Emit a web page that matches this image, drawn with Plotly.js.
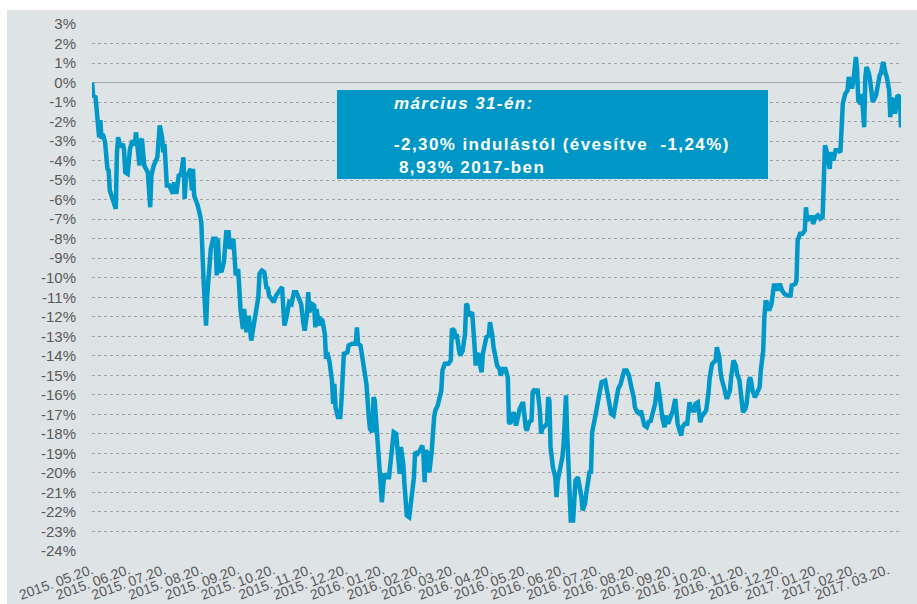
<!DOCTYPE html>
<html>
<head>
<meta charset="utf-8">
<script src="https://cdn.plot.ly/plotly-3.0.1.min.js"></script>
<style>
  html, body { margin: 0; padding: 0; background: #ffffff; width: 917px; height: 604px; overflow: hidden; }
  #chart { position: absolute; left: 7px; top: 10px; width: 910px; height: 594px; }
</style>
</head>
<body>
<div id="chart"></div>
<script>
// Start date of the series (launch)
const startDate = '2015-05-20';

// Days elapsed since launch for each observation
const dayOffsets = [
  0,1,3,5,6,7,8,9,11,13,14,15,18,20,21,22,24,26,27,28,30,32,34,36,37,38,40,41,42,44,46,47,49,50,52,54,55,57,59,60,61,63,65,67,68,69,71,73,75,77,78,79,81,83,84,85,86,88,89,91,92,94,96,97,100,102,104,105,106,107,109,111,113,115,116,118,119,121,123,125,127,128,130,132,133,134,
  140,141,143,145,147,148,149,151,153,155,157,160,161,162,164,166,168,170,172,174,176,178,179,181,182,183,185,187,188,189,191,192,194,196,197,198,200,202,203,204,205,207,209,210,211,212,215,216,219,222,223,224,226,228,230,231,233,234,236,237,238,240,242,243,244,246,248,250,252,254,256,257,259,260,262,263,265,267,269,270,271,272,274,276,278,279,280,281,283,284,286,288,289,291,293,294,295,297,
  300,302,303,305,306,307,309,310,312,314,315,316,317,319,320,322,323,324,326,327,328,329,331,332,334,335,337,338,340,341,343,344,346,348,350,351,352,354,355,357,359,360,362,363,365,366,368,370,371,372,374,375,377,378,379,381,383,384,385,386,388,390,391,392,394,396,397,399,400,402,403,405,406,407,409,410,412,413,415,416,418,419,420,421,423,425,427,428,
  429,432,433,434,436,437,439,441,442,443,445,447,448,450,452,454,456,457,459,461,462,464,465,467,469,470,472,474,475,476,478,479,480,482,483,485,486,488,489,491,492,493,495,496,497,499,501,502,503,505,507,508,510,512,513,515,517,519,520,522,524,525,526,528,529,530,532,534,535,537,538,540,542,543,545,547,548,550,551,553,554,555,556,558,559,561,562,563,565,566,567,568,569,570,572,573,574,576,577,579,
  581,583,585,588,589,592,593,594,596,598,600,601,602,604,606,607,609,611,613,615,616,617,619,620,621,622,624,626,628,630,631,632,634,636,637,639,640,641,643,644,645,647,648,650,651,652,654,655,657,658,660,662,663,664,666,668,669,671,672,673,675,676,677,678,680,681
];

// Cumulative return since launch, %
const returnPct = [
  0,-0.67,-0.75,-1.86,-2.8,-1.93,-2.89,-2.63,-3.05,-4.42,-4.5,-5.53,-6.03,-6.47,-3.57,-2.8,-3.31,-3.14,-3.47,-4.6,-4.68,-3.4,-2.96,-3.22,-2.55,-3.05,-4.25,-2.96,-2.89,-4.25,-4.42,-4.6,-6.39,-4.76,-4.25,-3.99,-3.83,-2.2,-2.8,-3.57,-3.14,-5.28,-5.28,-5.53,-5.7,-5.11,-5.7,-4.76,-4.68,-3.83,-5.96,-4.93,-4.6,-4.42,-5.53,-4.42,-5.79,-6.13,-6.3,-6.81,-7.16,-10.23,-12.45,-10.9,-8.52,-8.0,-8.0,-9.88,-8.0,-9.54,-9.71,-9.2,-7.67,-7.67,-8.52,-8.27,-8.0,-9.88,-9.54,-11.6,-12.62,-11.6,-12.79,-11.94,-12.88,-13.22,
  -11.0,-9.8,-9.63,-9.71,-10.57,-10.48,-10.91,-11.08,-11.25,-10.91,-10.74,-10.48,-11.51,-12.45,-11.94,-11.25,-11.34,-10.74,-10.74,-11.0,-11.34,-12.36,-12.71,-11.85,-10.74,-11.77,-11.34,-11.42,-12.54,-11.6,-12.45,-12.1,-12.19,-12.88,-14.16,-13.82,-14.33,-15.27,-16.46,-15.44,-16.63,-17.14,-17.14,-16.29,-14.24,-13.9,-13.82,-13.47,-13.38,-13.38,-12.54,-13.38,-13.47,-14.24,-15.18,-15.44,-17.14,-17.74,-17.91,-16.12,-16.29,-18.17,-19.53,-21.07,-21.5,-20.04,-20.22,-20.22,-19.19,-17.91,-17.99,-18.51,-20.04,-18.68,-19.53,-20.56,-22.18,-22.27,-21.24,-20.73,-20.22,-18.94,-19.02,-18.85,-18.6,-19.02,-20.47,-18.85,-19.02,-19.96,-18.85,-17.14,-16.8,-16.55,-16.12,-15.78,-14.75,-14.41,
  -14.41,-14.24,-12.62,-12.71,-13.13,-12.88,-13.73,-13.99,-13.73,-12.88,-11.34,-11.42,-11.94,-11.77,-11.77,-13.47,-14.5,-13.99,-13.9,-14.58,-14.84,-13.9,-13.13,-13.04,-12.96,-12.28,-12.96,-13.56,-14.16,-14.5,-14.67,-15.01,-14.67,-14.67,-15.1,-17.4,-17.48,-16.97,-16.89,-17.57,-16.89,-16.72,-16.46,-16.46,-17.66,-17.83,-17.4,-17.31,-15.86,-15.78,-15.86,-15.69,-16.8,-17.99,-17.74,-17.57,-17.48,-16.12,-16.29,-18.68,-19.71,-20.22,-21.24,-20.39,-19.88,-19.19,-18.51,-16.03,-17.99,-20.73,-22.44,-22.44,-21.07,-20.39,-20.22,-20.56,-21.24,-21.92,-21.58,-21.07,-20.22,-19.88,-20.04,-17.91,-17.31,-16.63,-15.95,-15.44,
  -15.35,-15.27,-15.61,-15.78,-16.63,-16.97,-17.06,-16.21,-15.95,-15.69,-15.44,-15.01,-14.75,-14.75,-15.01,-15.61,-16.12,-16.63,-16.89,-16.97,-16.8,-17.31,-17.57,-17.66,-17.31,-17.4,-16.97,-16.46,-15.95,-15.35,-16.12,-16.97,-17.14,-17.66,-17.06,-17.48,-17.31,-16.97,-16.8,-16.21,-16.97,-17.48,-17.91,-18.08,-17.66,-17.48,-17.48,-16.55,-16.38,-16.8,-16.8,-16.46,-16.38,-17.4,-17.14,-16.97,-16.8,-15.86,-15.1,-14.41,-14.24,-14.24,-13.56,-14.07,-14.75,-15.18,-15.61,-16.12,-16.12,-15.78,-15.1,-14.24,-14.5,-14.92,-15.27,-16.63,-16.89,-16.72,-16.46,-15.27,-15.1,-15.35,-15.78,-16.12,-15.95,-15.78,-15.61,-14.75,-13.73,-12.02,-11.25,-11.25,-11.51,-11.68,-11.34,-10.48,-10.4,-10.4,-10.66,-10.31,
  -10.66,-10.83,-10.91,-10.91,-10.4,-10.31,-10.14,-8.09,-7.75,-7.75,-7.58,-6.39,-7.07,-6.9,-6.9,-7.24,-6.9,-6.81,-6.98,-6.9,-3.65,-3.22,-3.65,-4.34,-4.42,-3.57,-3.99,-3.47,-3.47,-3.57,-1.93,-1.09,-0.58,-0.41,0.29,-0.22,-0.22,0.12,1.31,0.71,-0.91,-1.09,-0.58,-2.29,0.29,0.8,0.46,0.12,-0.91,-0.91,-0.65,0.12,0.37,0.46,1.05,0.46,0.29,-0.39,-1.77,-0.83,-0.91,-1.6,-1.18,-0.65,-0.75,-2.30
];

// Axis ticks
const xTickDates = ['2015-05-20','2015-06-20','2015-07-20','2015-08-20','2015-09-20','2015-10-20','2015-11-20','2015-12-20',
  '2016-01-20','2016-02-20','2016-03-20','2016-04-20','2016-05-20','2016-06-20','2016-07-20','2016-08-20','2016-09-20',
  '2016-10-20','2016-11-20','2016-12-20','2017-01-20','2017-02-20','2017-03-20'];
const xTickLabels = ['2015. 05.20.','2015. 06.20.','2015. 07.20.','2015. 08.20.','2015. 09.20.','2015. 10.20.','2015. 11.20.','2015. 12.20.',
  '2016. 01.20.','2016. 02.20.','2016. 03.20.','2016. 04.20.','2016. 05.20.','2016. 06.20.','2016. 07.20.','2016. 08.20.','2016. 09.20.',
  '2016. 10.20.','2016. 11.20.','2016. 12.20.','2017. 01.20.','2017. 02.20.','2017. 03.20.'];
const yTickValues = [3,2,1,0,-1,-2,-3,-4,-5,-6,-7,-8,-9,-10,-11,-12,-13,-14,-15,-16,-17,-18,-19,-20,-21,-22,-23,-24];
const yTickLabels = ['3%','2%','1%','0%','-1%','-2%','-3%','-4%','-5%','-6%','-7%','-8%','-9%','-10%','-11%','-12%','-13%','-14%',
  '-15%','-16%','-17%','-18%','-19%','-20%','-21%','-22%','-23%','-24%'];

// Text box content
const boxTitle = 'március 31-én:';
const boxLine1 = '-2,30% indulástól (évesítve&nbsp; -1,24%)';
const boxLine2 = '8,93% 2017-ben';

function addDays(iso, n) {
  const t = new Date(iso + 'T00:00:00Z');
  t.setUTCDate(t.getUTCDate() + n);
  return t.toISOString().slice(0, 10);
}
const dates = dayOffsets.map(d => addDays(startDate, d));

const FONT = '"Liberation Sans", Arial, Helvetica, sans-serif';
const LABEL = '#595959';
const BLUE = '#0096c6';
const SP = '<span style="letter-spacing:1.4px">';

const trace = {
  type: 'scatter', mode: 'lines', x: dates, y: returnPct,
  line: { color: '#0098c8', width: 4.5 }, hoverinfo: 'skip'
};

const layout = {
  width: 910, height: 594,
  margin: { l: 85, r: 16, t: 14, b: 53 },
  paper_bgcolor: '#dee3e6', plot_bgcolor: '#dee3e6',
  showlegend: false,
  font: { family: FONT, size: 14, color: LABEL },
  xaxis: {
    type: 'date', range: ['2015-05-20', '2017-03-31'],
    tickmode: 'array', tickvals: xTickDates, ticktext: xTickLabels,
    tickangle: -20, showgrid: false, zeroline: false, showline: false,
    ticks: 'outside', ticklen: 5, tickcolor: 'rgba(0,0,0,0)',
    tickfont: { family: FONT, size: 14, color: LABEL }, fixedrange: true
  },
  yaxis: {
    range: [-24, 3], tickmode: 'array', tickvals: yTickValues, ticktext: yTickLabels,
    showgrid: true, gridcolor: '#a3a3a3', griddash: 'dot', gridwidth: 1,
    zeroline: true, zerolinecolor: '#a8a8a8', zerolinewidth: 1, showline: false,
    ticks: 'outside', ticklen: 12, tickcolor: 'rgba(0,0,0,0)',
    tickfont: { family: FONT, size: 15, color: LABEL }, fixedrange: true
  },
  shapes: [{
    type: 'rect', xref: 'paper', yref: 'paper',
    x0: 0.3028, x1: 0.8356, y0: 0.7059, y1: 0.8748,
    fillcolor: BLUE, line: { width: 0 }, layer: 'above'
  }],
  annotations: [
    { xref: 'paper', yref: 'paper', x: 0.371, y: 0.8482, xanchor: 'left', yanchor: 'middle', showarrow: false,
      text: SP + '<b><i>' + boxTitle + '</i></b></span>', font: { family: FONT, size: 17, color: '#ffffff' } },
    { xref: 'paper', yref: 'paper', x: 0.371, y: 0.7704, xanchor: 'left', yanchor: 'middle', showarrow: false,
      text: SP + '<b>' + boxLine1 + '</b></span>', font: { family: FONT, size: 17, color: '#ffffff' } },
    { xref: 'paper', yref: 'paper', x: 0.377, y: 0.7268, xanchor: 'left', yanchor: 'middle', showarrow: false,
      text: SP + '<b>' + boxLine2 + '</b></span>', font: { family: FONT, size: 17, color: '#ffffff' } }
  ]
};

Plotly.newPlot('chart', [trace], layout, { displayModeBar: false, staticPlot: true });
</script>
</body>
</html>
